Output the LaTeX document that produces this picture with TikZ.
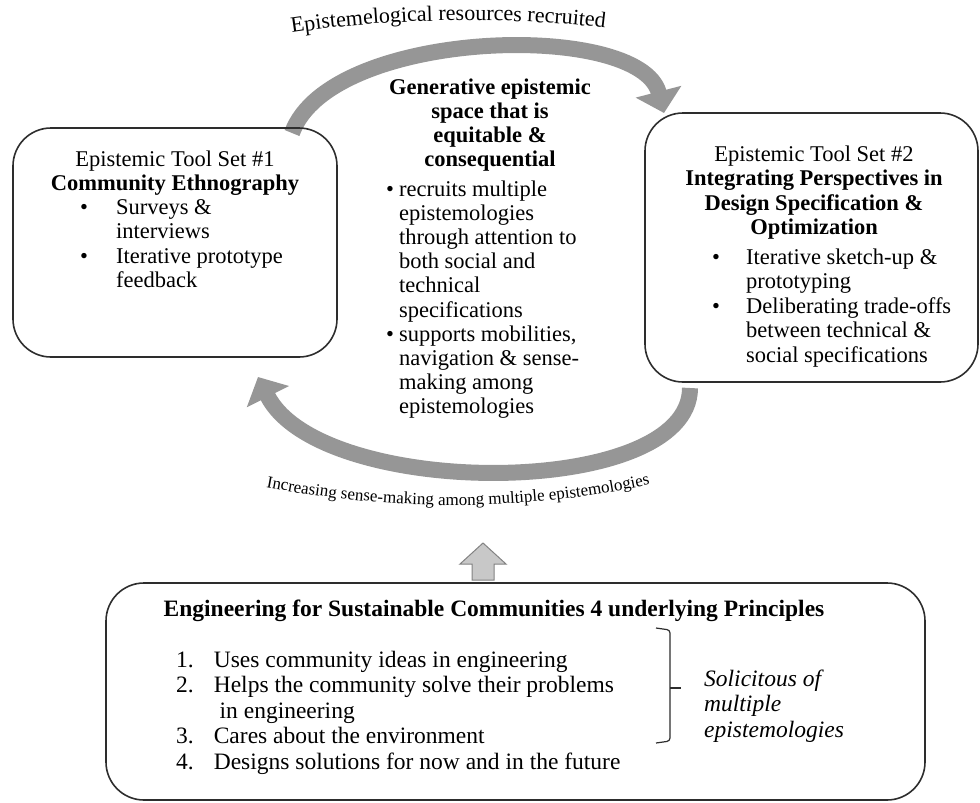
\documentclass[tikz,border=0pt]{standalone}
\usepackage{fontspec}
\setmainfont{Liberation Serif}
\usetikzlibrary{arrows.meta,decorations.text}

\definecolor{arcgray}{RGB}{150,150,150}
\definecolor{boxline}{RGB}{45,45,45}
\definecolor{upfill}{RGB}{200,200,200}
\definecolor{upline}{RGB}{130,130,130}

\tikzset{
  box/.style={draw=boxline, line width=1.6pt, rounded corners=38pt, inner sep=0pt},
  band/.style={draw=arcgray, line width=16pt, -{Triangle[width=46pt,length=22pt]}},
  txt/.style={inner sep=0pt, font=\fontsize{22.5}{24.5}\selectfont},
  midtxt/.style={inner sep=0pt, font=\fontsize{22.5}{24.2}\selectfont},
  basetxt/.style={inner sep=0pt, font=\fontsize{23.5}{25.5}\selectfont},
}

\begin{document}
\begin{tikzpicture}[x=1pt,y=-1pt]
  \useasboundingbox (0,0) rectangle (980,803);

  % curved arrows round the middle
  \coordinate (topstart) at (292,133);
  \coordinate (toptip) at (664,113);
  \coordinate (botstart) at (690,388);
  \coordinate (bottip) at (258,377);
  \draw[band] (topstart) .. controls (330,28) and (640,20) .. (toptip);
  \draw[band] (botstart) .. controls (690,500) and (320,500) .. (bottip);

  \path[decorate, decoration={text along path, text align=center,
      text={|\fontsize{22}{22}\selectfont|Epistemelogical resources recruited}}]
    (252,40) .. controls (370,16) and (530,14) .. (645,34);
  \path[decorate, decoration={text along path, text align=center,
      text={|\fontsize{17}{17}\selectfont|Increasing sense-making among multiple epistemologies}}]
    (260,486) .. controls (390,512) and (530,512) .. (656,483);

  % tool set boxes
  \node[box, minimum width=324pt, minimum height=229pt] (toolone) at (175,242.5) {};
  \node[txt, anchor=north] (toolonehead) at (175,149)
    {\begin{tabular}{@{}c@{}}Epistemic Tool Set \#1\\ \textbf{Community Ethnography}\end{tabular}};
  \node[txt, anchor=north west] (toolonelist) at (80,197)
    {\begin{tabular}{@{}l@{\hspace{28pt}}l@{}}
      \textbullet & Surveys \&\\ & interviews\\
      \textbullet & Iterative prototype\\ & feedback
     \end{tabular}};

  \node[box, minimum width=333pt, minimum height=269pt] (tooltwo) at (811.5,247.5) {};
  \node[txt, anchor=north] (tooltwohead) at (814,144)
    {\begin{tabular}{@{}c@{}}Epistemic Tool Set \#2\\ \textbf{Integrating Perspectives in}\\
      \textbf{Design Specification \&}\\ \textbf{Optimization}\end{tabular}};
  \node[txt, anchor=north west] (tooltwolist) at (712,247)
    {\begin{tabular}{@{}l@{\hspace{26pt}}l@{}}
      \textbullet & Iterative sketch-up \&\\ & prototyping\\
      \textbullet & Deliberating trade-offs\\ & between technical \&\\ & social specifications
     \end{tabular}};

  % generative space
  \node[midtxt, anchor=north] (spacehead) at (490,77)
    {\begin{tabular}{@{}c@{}}\textbf{Generative epistemic}\\ \textbf{space that is}\\
      \textbf{equitable \&}\\ \textbf{consequential}\end{tabular}};
  \node[midtxt, anchor=north west] (spacelist) at (386,179)
    {\begin{tabular}{@{}l@{\hspace{5pt}}l@{}}
      \textbullet & recruits multiple\\ & epistemologies\\ & through attention to\\
      & both social and\\ & technical\\ & specifications\\
      \textbullet & supports mobilities,\\ & navigation \& sense-\\ & making among\\ & epistemologies
     \end{tabular}};

  % principles
  \coordinate (uptip) at (483,543);
  \draw[fill=upfill, draw=upline, line width=1pt] (uptip) -- ++(23,21) -- ++(-12,0) -- ++(0,16)
    -- ++(-22,0) -- ++(0,-16) -- ++(-12,0) -- cycle;

  \node[box, minimum width=819pt, minimum height=217pt] (principles) at (515.5,691.5) {};
  \node[basetxt, anchor=north] (principleshead) at (494,600)
    {\textbf{Engineering for Sustainable Communities 4 underlying Principles}};
  \node[basetxt, anchor=north west] (principleslist) at (176,649)
    {\begin{tabular}{@{}l@{\hspace{20pt}}l@{}}
      1. & Uses community ideas in engineering\\
      2. & Helps the community solve their problems\\
         & \ in engineering\\
      3. & Cares about the environment\\
      4. & Designs solutions for now and in the future
     \end{tabular}};
  \draw[boxline, line width=1.2pt, rounded corners=3pt]
    (656,628) -- (670,630) -- (670,741) -- (656,743);
  \draw[boxline, line width=1.2pt] (670,688) -- (681,688);
  \node[basetxt, anchor=north west] (solicitous) at (704,668)
    {\begin{tabular}{@{}l@{}}\textit{Solicitous of}\\ \textit{multiple}\\ \textit{epistemologies}\end{tabular}};
\end{tikzpicture}
\end{document}
